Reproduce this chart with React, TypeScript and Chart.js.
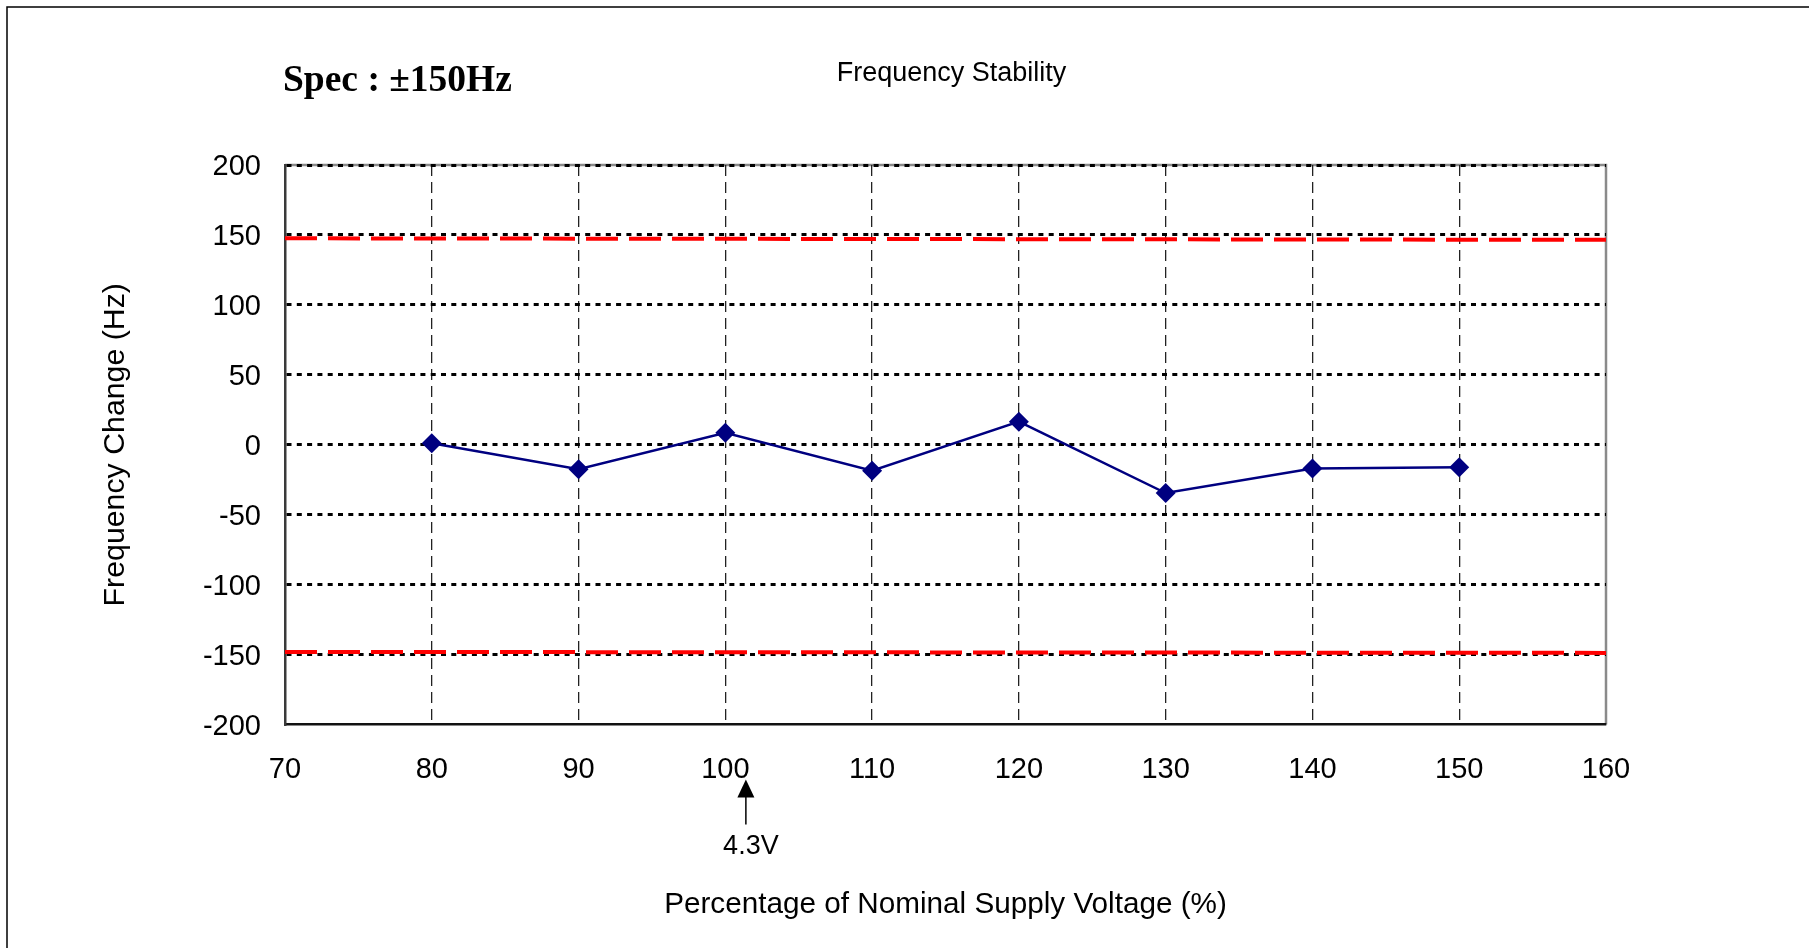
import { useEffect, useRef } from "react";
import { Chart, registerables } from "chart.js";

Chart.register(...registerables);

// ---- data ----
const voltagePct = [80, 90, 100, 110, 120, 130, 140, 150];
const freqChangeHz = [1, -17.5, 8.5, -18.5, 16.5, -34.5, -17, -16];
const specLineX = [70, 160];
const upperSpecHz = [147.6, 146.5];
const lowerSpecHz = [-148.1, -148.8];
const xTickValues = [70, 80, 90, 100, 110, 120, 130, 140, 150, 160];
const yTickValues = [-200, -150, -100, -50, 0, 50, 100, 150, 200];
const chartTitle = "Frequency Stability";
const specLabel = "Spec : ±150Hz";
const xAxisTitle = "Percentage of Nominal Supply Voltage (%)";
const yAxisTitle = "Frequency Change (Hz)";
const nominalMarkX = 101.4;
const nominalMarkLabel = "4.3V";

const SANS = "'Liberation Sans', Arial, Helvetica, sans-serif";
const SERIF = "'Liberation Serif', 'Times New Roman', serif";

const framePlugin = {
  id: "framePlugin",
  beforeDraw(chart: any) {
    const { ctx, chartArea: a, width, height } = chart;
    ctx.save();
    // outer page frame (left and top)
    ctx.strokeStyle = "#000";
    ctx.lineWidth = 1.5;
    ctx.beginPath();
    ctx.moveTo(7, height);
    ctx.lineTo(7, 7);
    ctx.lineTo(width, 7);
    ctx.stroke();
    // gray plot frame (top and right)
    ctx.strokeStyle = "#8a8a8a";
    ctx.lineWidth = 2.5;
    ctx.beginPath();
    ctx.moveTo(a.left, a.top);
    ctx.lineTo(a.right, a.top);
    ctx.lineTo(a.right, a.bottom);
    ctx.stroke();
    ctx.restore();
  },
  afterDraw(chart: any) {
    const { ctx, chartArea: a } = chart;
    const xs = chart.scales.x;
    ctx.save();
    ctx.fillStyle = "#000";
    // chart title
    ctx.font = `27px ${SANS}`;
    ctx.textAlign = "center";
    ctx.textBaseline = "middle";
    ctx.fillText(chartTitle, (a.left + a.right) / 2 + 6, 73.5);
    // spec label
    ctx.font = `bold 37.5px ${SERIF}`;
    ctx.textAlign = "left";
    ctx.fillText(specLabel, 283, 81);
    // nominal arrow
    const px = xs.getPixelForValue(nominalMarkX);
    const tip = a.bottom + 55;
    ctx.beginPath();
    ctx.moveTo(px, tip);
    ctx.lineTo(px - 8.5, tip + 18);
    ctx.lineTo(px + 8.5, tip + 18);
    ctx.closePath();
    ctx.fill();
    ctx.strokeStyle = "#000";
    ctx.lineWidth = 1.5;
    ctx.beginPath();
    ctx.moveTo(px, tip + 16);
    ctx.lineTo(px, tip + 45);
    ctx.stroke();
    ctx.font = `27px ${SANS}`;
    ctx.textAlign = "center";
    ctx.fillText(nominalMarkLabel, px + 5, a.bottom + 122.5);
    ctx.restore();
  },
};

export default function App() {
  const ref = useRef<HTMLCanvasElement | null>(null);

  useEffect(() => {
    if (!ref.current) return;
    const chart = new Chart(ref.current, {
      type: "line",
      data: {
        datasets: [
          {
            label: "Frequency change",
            data: voltagePct.map((x, i) => ({ x, y: freqChangeHz[i] })),
            borderColor: "#000080",
            backgroundColor: "#000080",
            borderWidth: 2.5,
            pointStyle: "rectRot",
            pointRadius: 10,
            pointBorderWidth: 0,
            tension: 0,
            order: 0,
          },
          {
            label: "Upper spec",
            data: specLineX.map((x, i) => ({ x, y: upperSpecHz[i] })),
            borderColor: "#ff0000",
            borderWidth: 4,
            borderDash: [32, 11],
            pointRadius: 0,
            order: 1,
            clip: false as any,
          },
          {
            label: "Lower spec",
            data: specLineX.map((x, i) => ({ x, y: lowerSpecHz[i] })),
            borderColor: "#ff0000",
            borderWidth: 4,
            borderDash: [32, 11],
            pointRadius: 0,
            order: 1,
            clip: false as any,
          },
        ],
      },
      options: {
        animation: false,
        responsive: false,
        events: [],
        layout: { padding: { top: 165, right: 203, left: 0, bottom: 0 } },
        plugins: {
          legend: { display: false },
          tooltip: { enabled: false },
          title: { display: false },
        },
        scales: {
          x: {
            type: "linear",
            min: 70,
            max: 160,
            afterBuildTicks: (s: any) => {
              s.ticks = xTickValues.map((v) => ({ value: v }));
            },
            afterFit: (s: any) => {
              s.height = 223.5;
            },
            ticks: {
              color: "#000",
              font: { size: 29, family: SANS },
              padding: 28.5,
              maxRotation: 0,
              autoSkip: false,
            },
            grid: {
              drawTicks: false,
              lineWidth: 1.3,
              color: (c: any) =>
                c.tick && (c.tick.value === 70 || c.tick.value === 160)
                  ? "rgba(0,0,0,0)"
                  : "#222",
            },
            border: { display: true, color: "#111", width: 2.5, dash: [11, 6] },
            title: {
              display: true,
              text: xAxisTitle,
              color: "#000",
              font: { size: 29.7, family: SANS },
              padding: { top: 0, bottom: 25 },
            },
          },
          y: {
            type: "linear",
            min: -200,
            max: 200,
            afterBuildTicks: (s: any) => {
              s.ticks = yTickValues.map((v) => ({ value: v }));
            },
            afterFit: (s: any) => {
              s.width = 285;
            },
            ticks: {
              color: "#000",
              font: { size: 29, family: SANS },
              padding: 24,
              labelOffset: 2,
              autoSkip: false,
            },
            grid: {
              drawTicks: false,
              lineWidth: 3,
              color: (c: any) =>
                c.tick && c.tick.value === -200 ? "rgba(0,0,0,0)" : "#000",
            },
            border: { display: true, color: "#3a3a3a", width: 2.5, dash: [5, 5.3] },
            title: {
              display: true,
              text: yAxisTitle,
              color: "#000",
              font: { size: 30.3, family: SANS },
              padding: { top: 97, bottom: 0 },
            },
          },
        },
      },
      plugins: [framePlugin],
    } as any);
    return () => chart.destroy();
  }, []);

  return (
    <div style={{ position: "fixed", left: 0, top: 0, width: 1809, height: 948, background: "#fff" }}>
      <canvas ref={ref} width={1809} height={948} style={{ display: "block" }} />
    </div>
  );
}
